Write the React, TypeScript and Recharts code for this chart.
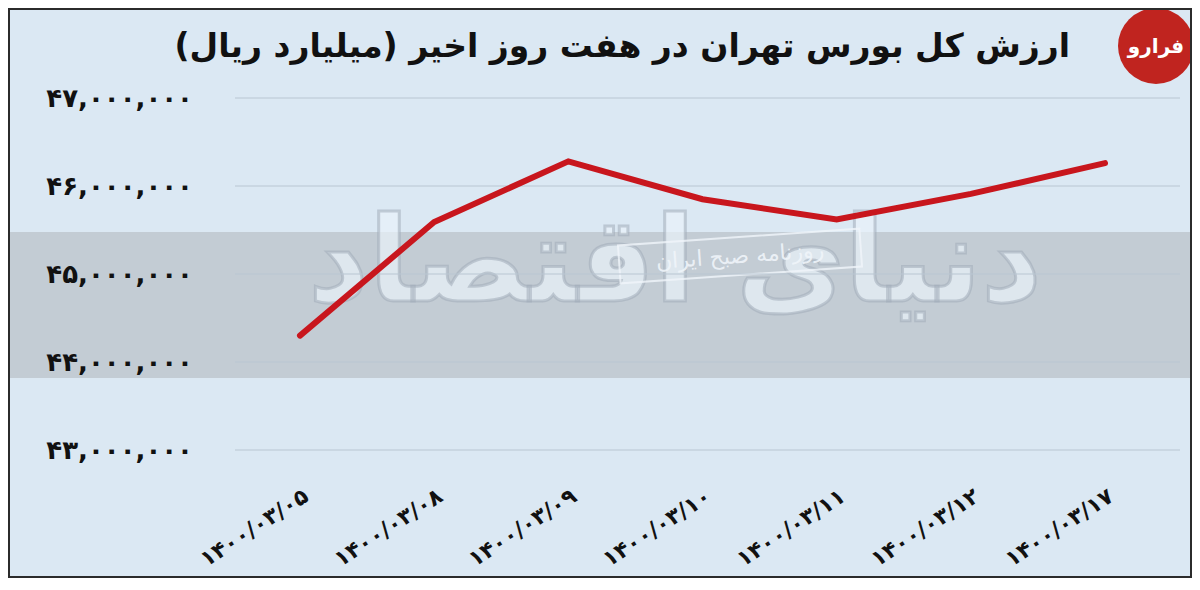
import React from "react";
import { LineChart, Line, XAxis, YAxis, CartesianGrid } from "recharts";

const DATES = [
  "۱۴۰۰/۰۳/۰۵",
  "۱۴۰۰/۰۳/۰۸",
  "۱۴۰۰/۰۳/۰۹",
  "۱۴۰۰/۰۳/۱۰",
  "۱۴۰۰/۰۳/۱۱",
  "۱۴۰۰/۰۳/۱۲",
  "۱۴۰۰/۰۳/۱۷",
];

// total value, billion rials
const VALUES = [44300000, 45590000, 46280000, 45850000, 45620000, 45910000, 46260000];

const Y_TICKS = [43000000, 44000000, 45000000, 46000000, 47000000];

const TITLE = "ارزش کل بورس تهران در هفت روز اخیر (میلیارد ریال)";

const data = DATES.map((d, i) => ({ date: d, value: VALUES[i] }));

const FA_DIGITS = "۰۱۲۳۴۵۶۷۸۹";
const toFa = (n: number) =>
  n.toLocaleString("en-US").replace(/[0-9]/g, (c) => FA_DIGITS[+c]);

const FONT = "'DejaVu Sans', sans-serif";

const DateTick = (props: any) => {
  const { x, y, payload } = props;
  return (
    <g transform={`translate(${x + 10},${y + 42})`}>
      <text
        textAnchor="end"
        transform="rotate(-33)"
        fontFamily={FONT}
        fontWeight="bold"
        fontSize={22}
        fill="#111"
        direction="ltr"
      >
        {payload.value}
      </text>
    </g>
  );
};

export default function App() {
  return (
    <div
      style={{
        position: "relative",
        width: 1180,
        height: 566,
        border: "2px solid #2b2b2b",
        background: "#dbe8f3",
        overflow: "hidden",
      }}
    >
      {/* grey band behind the plot */}
      <div
        style={{
          position: "absolute",
          left: 0,
          right: 0,
          top: 222,
          height: 146,
          background: "#c3ccd4",
        }}
      />
      {/* watermark */}
      <div
        dir="rtl"
        style={{
          position: "absolute",
          left: 250,
          top: 140,
          width: 830,
          textAlign: "center",
          fontFamily: FONT,
          fontWeight: "bold",
          fontSize: 118,
          lineHeight: "220px",
          color: "rgba(234,242,249,0.7)",
          WebkitTextStroke: "3px rgba(160,172,184,0.55)",
          whiteSpace: "nowrap",
        }}
      >
        دنیای اقتصاد
      </div>
      <div
        dir="rtl"
        style={{
          position: "absolute",
          left: 608,
          top: 226,
          width: 240,
          height: 36,
          border: "2px solid rgba(240,245,250,0.8)",
          transform: "rotate(-4deg)",
          fontFamily: FONT,
          fontSize: 22,
          lineHeight: "36px",
          textAlign: "center",
          color: "rgba(240,245,250,0.9)",
          whiteSpace: "nowrap",
        }}
      >
        روزنامه صبح ایران
      </div>

      {/* title */}
      <div
        dir="rtl"
        style={{
          position: "absolute",
          right: 120,
          top: 16,
          fontFamily: FONT,
          fontWeight: "bold",
          fontSize: 33,
          color: "#111",
          whiteSpace: "nowrap",
        }}
      >
        {TITLE}
      </div>

      {/* logo */}
      <div
        dir="rtl"
        style={{
          position: "absolute",
          left: 1108,
          top: -2,
          width: 76,
          height: 76,
          borderRadius: "50%",
          background: "#c0241f",
          color: "#fff",
          fontFamily: FONT,
          fontWeight: "bold",
          fontSize: 20,
          lineHeight: "76px",
          textAlign: "center",
        }}
      >
        فرارو
      </div>

      <div style={{ position: "absolute", left: 0, top: 0 }}>
        <LineChart
          width={1180}
          height={566}
          data={data}
          margin={{ top: 88, right: 10, left: 0, bottom: 6 }}
        >
          <CartesianGrid vertical={false} stroke="#b9c6d2" strokeWidth={1} />
          <XAxis
            dataKey="date"
            axisLine={false}
            tickLine={false}
            tick={<DateTick />}
            height={120}
            interval={0}
            padding={{ left: 65, right: 75 }}
          />
          <YAxis
            domain={[43000000, 47000000]}
            ticks={Y_TICKS}
            width={225}
            axisLine={false}
            tickLine={false}
            tickSize={0}
            tickMargin={42}
            tickFormatter={toFa}
            tick={{ fontFamily: FONT, fontWeight: "bold", fontSize: 26, fill: "#111" }}
          />
          <Line
            type="linear"
            dataKey="value"
            stroke="#c8161d"
            strokeWidth={6}
            strokeLinecap="round"
            dot={false}
            isAnimationActive={false}
          />
        </LineChart>
      </div>
    </div>
  );
}
